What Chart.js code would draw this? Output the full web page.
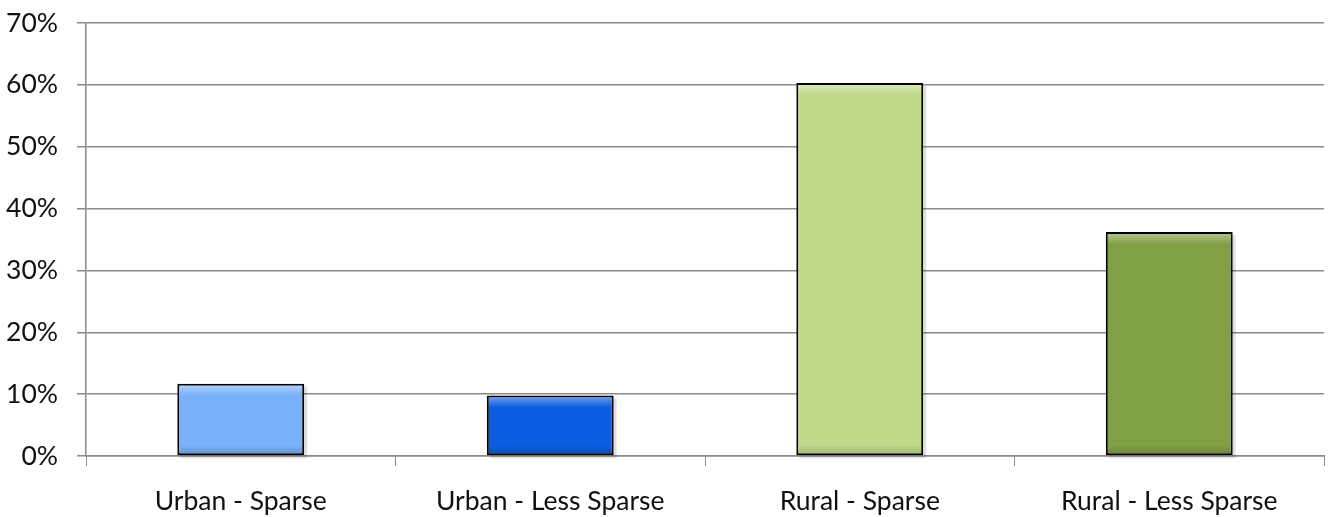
<!DOCTYPE html>
<html>
<head>
<meta charset="utf-8">
<script src="https://cdn.jsdelivr.net/npm/chart.js@4/dist/chart.umd.min.js"></script>
<style>
  html, body { margin: 0; padding: 0; background: #fff; }
  #wrap { width: 1329px; height: 517px; }
</style>
</head>
<body>
<div id="wrap"><canvas id="myChart"></canvas></div>
<script>
// chart data
var categories = ['Urban - Sparse', 'Urban - Less Sparse', 'Rural - Sparse', 'Rural - Less Sparse'];
var shares = [11.7, 9.8, 60.3, 36.2];
var barColors = ['#79b1fb', '#0a5de0', '#c0d98a', '#81a045'];
var yTicks = [0, 10, 20, 30, 40, 50, 60, 70];

const tickFont = { family: "Lato, 'Open Sans', sans-serif", size: 26.5, lineHeight: 1 };

// soft bevel on bars, like the office look
const bevel = {
  id: 'bevel',
  beforeDatasetsDraw(chart) {
    const c = chart.ctx;
    chart.getDatasetMeta(0).data.forEach((bar) => {
      const w = bar.width, left = bar.x - w / 2;
      c.save();
      c.fillStyle = 'rgba(0,0,0,0.12)';
      c.fillRect(left + 3, bar.y + 3, w, bar.base - bar.y);
      c.restore();
    });
  },
  afterDatasetsDraw(chart) {
    const c = chart.ctx;
    chart.getDatasetMeta(0).data.forEach((bar) => {
      const w = bar.width, left = bar.x - w / 2, top = bar.y, bottom = bar.base;
      c.save();
      let g = c.createLinearGradient(0, top, 0, top + 12);
      g.addColorStop(0, 'rgba(255,255,255,0.45)');
      g.addColorStop(1, 'rgba(255,255,255,0)');
      c.fillStyle = g;
      c.fillRect(left + 2, top + 2, w - 4, 10);
      g = c.createLinearGradient(0, bottom - 10, 0, bottom);
      g.addColorStop(0, 'rgba(0,0,0,0)');
      g.addColorStop(1, 'rgba(0,0,0,0.18)');
      c.fillStyle = g;
      c.fillRect(left + 2, bottom - 10, w - 4, 8);
      c.restore();
    });
  }
};

const ctx = document.getElementById('myChart');
const myChartBar = new Chart(ctx, {
  type: 'bar',
  data: {
    labels: categories,
    datasets: [{
      data: shares,
      backgroundColor: barColors,
      borderColor: '#000',
      borderWidth: 2,
      borderSkipped: false,
      categoryPercentage: 0.82,
      barPercentage: 0.5
    }]
  },
  options: {
    responsive: true,
    maintainAspectRatio: false,
    animation: false,
    layout: { padding: { top: 0, right: 5, left: 0, bottom: 0 } },
    plugins: {
      legend: { display: false },
      tooltip: { enabled: false }
    },
    scales: {
      x: {
        offset: true,
        grid: {
          offset: true,
          drawOnChartArea: false,
          color: '#8a8a8a',
          tickLength: 10
        },
        border: { color: '#8a8a8a', width: 1.5 },
        ticks: { padding: 22, color: '#111', font: tickFont },
        afterFit: (s) => { s.height = 61; }
      },
      y: {
        min: 0,
        max: 70,
        afterBuildTicks: (s) => { s.ticks = yTicks.map(v => ({ value: v })); },
        grid: { color: '#8a8a8a', lineWidth: 1.5, tickLength: 9 },
        border: { color: '#8a8a8a', width: 1.5 },
        ticks: {
          padding: 19,
          color: '#111',
          font: tickFont,
          callback: (v) => v + '%'
        },
        afterFit: (s) => { s.width = 86; s.paddingTop = 23; s.paddingBottom = 0; }
      }
    }
  },
  plugins: [bevel]
});
</script>
</body>
</html>
